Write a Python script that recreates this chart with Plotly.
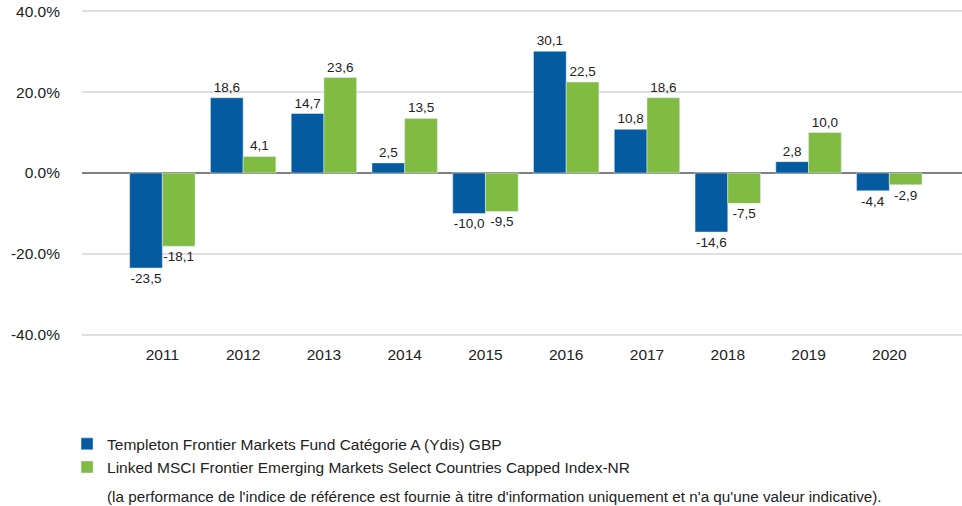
import plotly.graph_objects as go

years = ["2011", "2012", "2013", "2014", "2015", "2016", "2017", "2018", "2019", "2020"]
fund = [-23.5, 18.6, 14.7, 2.5, -10.0, 30.1, 10.8, -14.6, 2.8, -4.4]
index = [-18.1, 4.1, 23.6, 13.5, -9.5, 22.5, 18.6, -7.5, 10.0, -2.9]
fund_name = "Templeton Frontier Markets Fund Catégorie A (Ydis) GBP"
index_name = "Linked MSCI Frontier Emerging Markets Select Countries Capped Index-NR"
note = "(la performance de l'indice de référence est fournie à titre d'information uniquement et n'a qu'une valeur indicative)."
y_ticks = [-40, -20, 0, 20, 40]

def fr(v):
    return f"{v:.1f}".replace(".", ",")

FONT = "Liberation Sans, Arial, sans-serif"
TXT = "#222222"

fig = go.Figure()
fig.add_trace(go.Bar(x=years, y=fund, name=fund_name, marker_color="#055BA0",
                     text=[fr(v) for v in fund], textposition="outside",
                     textfont=dict(size=13.5, color=TXT), cliponaxis=False))
fig.add_trace(go.Bar(x=years, y=index, name=index_name, marker_color="#80BC41",
                     text=[fr(v) for v in index], textposition="outside",
                     textfont=dict(size=13.5, color=TXT), cliponaxis=False))

fig.update_layout(
    width=962, height=506,
    margin=dict(l=82, r=0, t=10, b=170, autoexpand=False),
    paper_bgcolor="white", plot_bgcolor="white",
    font=dict(family=FONT, size=15, color=TXT),
    barmode="group", bargap=0.19, bargroupgap=0,
    xaxis=dict(range=[-0.995, 9.9], showgrid=False, ticks="", showline=False,
               tickfont=dict(size=15.5), ticklabelstandoff=7, automargin=False),
    yaxis=dict(range=[-40.3, 40.3], tickvals=y_ticks,
               ticktext=[f"{v:.1f}%" for v in y_ticks],
               showgrid=True, gridcolor="#E0E0E0", gridwidth=1.5,
               zeroline=True, zerolinecolor="#808080", zerolinewidth=1.5,
               ticks="", ticklabelstandoff=21, tickfont=dict(size=15.5),
               automargin=False),
    showlegend=True,
    legend=dict(orientation="v", x=-0.017, xanchor="left", y=-0.28, yanchor="top",
                font=dict(size=15.5), itemwidth=30, tracegroupgap=0,
                bgcolor="rgba(0,0,0,0)"),
    annotations=[dict(text=note, xref="paper", yref="paper", x=0.026, y=-0.493,
                      xanchor="left", yanchor="middle", showarrow=False,
                      font=dict(size=15.25, color=TXT))],
)

fig.write_html("out.html", config={"displayModeBar": False},
               post_script="document.body.style.margin='0';")
